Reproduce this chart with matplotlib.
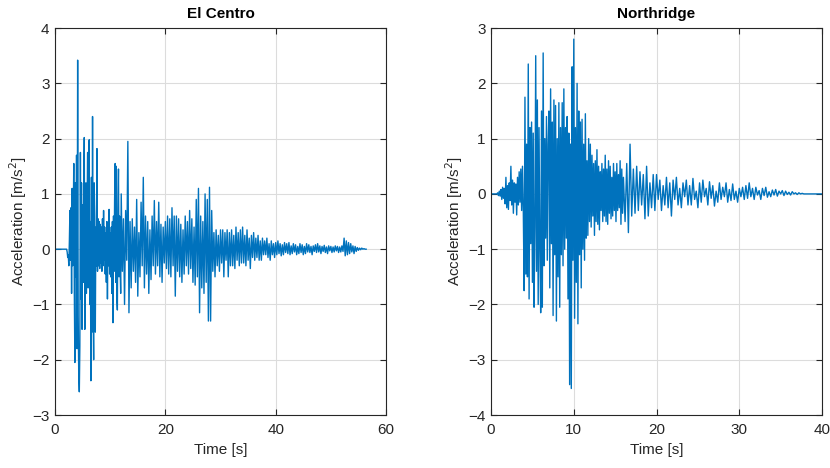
import matplotlib.pyplot as plt
import numpy as np

plt.rcParams["font.family"] = ["Liberation Sans", "DejaVu Sans"]

LINE_COLOR = "#0072BD"
AXES_COLOR = "#262626"
GRID_COLOR = "#dcdcdc"

# El Centro: strong part every 0.1 s (0 .. 11.9 s), then every 0.2 s from 12 s
EC_HEAD_DT = 0.1
EC_HEAD = [
    0, 0, 0, 0, 0, 0, 0, 0, 0, 0,
    0, 0, 0, 0, 0, 0, 0, 0, 0, 0,
    0, 0, -0.05, -0.15, -0.1, -0.3, 0.15, 0.7, -0.2, 0.75,
    -0.8, 1.1, -0.3, 0.5, 1.55, -0.8, -2.05, 1.2, -0.5, 1.7,
    -1.8, 3.42, -1.2, -2.3, -2.58, -1.75, 1.75, -0.9, 1.2, -1.45,
    0.8, -0.6, 1.0, 2.02, -1.45, -0.5, 1.2, -0.8, 0.6, 1.75,
    -0.7, 1.72, 1.98, -1.0, 0.5, -2.38, 1.3, -1.5, 2.4, -1.0,
    -2.0, 1.2, 0.6, -1.5, 0.4, -0.3, 1.82, -0.4, 0.55, -0.3,
    0.5, -0.35, 0.45, -0.25, 0.4, -0.4, 0.55, -0.3, 0.7, -0.2,
    0.4, -0.45, 0.3, -0.6, 0.5, -0.9, 0.35, -0.3, 0.72, -0.45,
    0.3, -0.5, 0.4, -0.8, 0.5, -1.33, 0.6, -0.4, 0.9, 1.55,
    -0.6, 1.5, -0.9, -1.1, 0.7, 1.45, -0.5, 0.6, -0.3, -0.8,
]
EC_TAIL_DT = 0.2
EC_TAIL = [
    1.0, -0.4, 0.55, -1.0, 0.7, -0.2, 1.95, -1.15, 0.5, -0.7,
    0.55, -0.4, 0.4, -0.6, 0.9, -0.85, 0.3, -0.5, 0.85, -0.3,
    1.3, -0.7, 0.6, -0.45, 0.5, -0.8, 0.35, -0.55, 0.6, -0.3,
    0.88, -0.45, 0.5, -0.3, 0.85, -0.5, 0.45, -0.6, 0.4, -0.25,
    0.5, -0.35, 0.6, -0.45, 0.55, -0.5, 0.75, -0.3, 0.6, -0.85,
    0.6, -0.4, 0.55, -0.5, 0.45, -0.6, 0.35, -0.45, 0.6, -0.3,
    0.5, -0.45, 0.7, -0.35, 0.55, -0.6, 0.4, -0.65, 0.9, -0.5,
    1.1, -1.15, 0.6, -0.7, 0.5, -0.8, 1.0, -0.6, 0.9, -1.3,
    1.12, -1.3, 0.7, -0.4, 0.3, -0.5, 0.35, -0.3, 0.25, -0.4,
    0.35, -0.25, 0.35, -0.5, 0.3, -0.2, 0.35, -0.5, 0.3, -0.3,
    0.35, -0.3, 0.25, -0.35, 0.4, -0.2, 0.3, -0.3, 0.35, -0.25,
    0.4, -0.25, 0.25, -0.3, 0.35, -0.2, 0.2, -0.35, 0.25, -0.15,
    0.3, -0.2, 0.2, -0.15, 0.25, -0.2, 0.15, -0.2, 0.2, -0.1,
    0.15, -0.1, 0.2, -0.15, 0.1, -0.2, 0.15, -0.1, 0.1, -0.15,
    0.12, -0.1, 0.15, -0.08, 0.1, -0.12, 0.08, -0.1, 0.12, -0.06,
    0.1, -0.08, 0.12, -0.1, 0.06, -0.08, 0.1, -0.05, 0.08, -0.1,
    0.05, -0.08, 0.1, -0.06, 0.08, -0.1, 0.05, -0.08, 0.1, -0.05,
    0.08, -0.06, 0.05, -0.1, 0.06, -0.04, 0.08, -0.06, 0.1, -0.05,
    0.06, -0.08, 0.05, -0.04, 0.07, -0.06, 0.04, -0.08, 0.06, -0.03,
    0.05, -0.06, 0.04, -0.05, 0.06, -0.03, 0.05, -0.06, 0.04, -0.05,
    0.06, -0.04, 0.2, -0.12, 0.15, -0.1, 0.12, -0.08, 0.1, -0.05,
    0.06, -0.08, 0.05, -0.04, 0.03, -0.02, 0.02, -0.01, 0.02, 0.0,
    0.01, 0.0, 0.0,
]

# Northridge: every 0.1 s (0 .. 15.9 s), then every 0.2 s from 16 s
NR_HEAD_DT = 0.1
NR_HEAD = [
    0, 0, 0, 0, 0, 0, 0, 0, 0.02, -0.03,
    0.05, -0.04, 0.08, -0.1, 0.12, -0.08, 0.1, -0.18, 0.3, -0.25,
    0.15, -0.28, 0.2, -0.12, 0.5, -0.2, 0.25, -0.35, 0.2, -0.15,
    0.18, -0.38, 0.3, -0.2, 0.4, -0.15, 0.45, -0.3, 0.5, -0.3,
    -1.75, 1.75, -1.45, 0.9, -1.5, 2.35, -1.9, 1.2, -0.9, 1.3,
    -1.6, 1.1, -2.05, -0.6, 2.5, -1.4, 1.7, -2.0, 1.2, -1.0,
    -2.15, 1.5, -2.05, 2.55, -1.3, 1.0, -0.8, 1.4, -1.2, 0.9,
    1.5, -1.7, 1.9, -0.9, 1.3, -2.2, 1.7, -1.1, 1.6, -2.3,
    1.0, -1.5, 1.65, -2.05, 1.2, -1.1, 1.65, -1.3, 1.9, -1.0,
    1.2, -0.8, 1.4, -1.9, 1.1, -3.45, 0.9, -3.52, 2.3, -1.2,
    2.8, -2.25, 1.2, -1.6, 2.0, -2.35, 1.5, -1.1, 1.3, -1.7,
    1.35, -1.0, 0.9, -1.2, 1.45, -0.8, 0.6, -0.75, 1.0, -0.5,
    0.9, -0.6, 0.7, -0.4, 0.55, -0.75, 0.6, -0.5, 0.8, -0.55,
    0.5, -0.65, 0.4, -0.3, 0.55, -0.5, 0.45, -0.4, 0.7, -0.5,
    0.45, -0.55, 0.6, -0.35, 0.5, -0.45, 0.3, -0.4, 0.55, -0.3,
    0.4, -0.5, 0.55, -0.3, 0.35, -0.25, 0.6, -0.55, 0.45, -0.35,
]
NR_TAIL_DT = 0.2
NR_TAIL = [
    0.3, -0.5, 0.55, -0.7, 0.9, -0.4, 0.45, -0.35, 0.5, -0.3,
    0.4, -0.2, 0.35, -0.45, 0.5, -0.4, 0.2, -0.25, 0.35, -0.3,
    0.35, -0.1, 0.25, -0.3, 0.15, -0.2, 0.3, -0.25, 0.2, -0.4,
    0.25, -0.1, 0.3, -0.2, 0.1, -0.25, 0.2, -0.05, 0.25, -0.2,
    0.15, -0.2, 0.28, -0.1, 0.05, -0.25, 0.2, -0.15, 0.25, -0.05,
    0.1, -0.2, 0.22, -0.08, 0.15, -0.22, 0.05, -0.15, 0.2, -0.1,
    0.12, -0.05, 0.2, -0.15, 0.08, -0.12, 0.18, -0.1, 0.05, -0.15,
    0.1, -0.05, 0.12, -0.1, 0.15, -0.08, 0.2, -0.05, 0.1, -0.1,
    0.12, -0.02, 0.06, -0.1, 0.1, -0.03, 0.12, -0.06, 0.04, -0.05,
    0.07, -0.02, 0.08, -0.04, 0.05, 0.0, 0.06, -0.03, 0.05, -0.01,
    0.03, -0.02, 0.04, 0.0, 0.02, -0.01, 0.02, 0.0, 0.01, 0.0,
    0, 0, 0, 0, 0, 0, 0, 0, 0, 0, 0,
]

PANELS = [
    ("El Centro", (EC_HEAD_DT, EC_HEAD), (EC_TAIL_DT, EC_TAIL),
     (0, 60), [0, 20, 40, 60], (-3, 4)),
    ("Northridge", (NR_HEAD_DT, NR_HEAD), (NR_TAIL_DT, NR_TAIL),
     (0, 40), [0, 10, 20, 30, 40], (-4, 3)),
]
AXES_RECTS = [
    [0.0663, 0.1132, 0.3988, 0.8268],
    [0.5916, 0.1132, 0.3988, 0.8268],
]


def build_record(head, tail):
    head_dt, head_vals = head
    tail_dt, tail_vals = tail
    t_head = np.arange(len(head_vals)) * head_dt
    t_tail = len(head_vals) * head_dt + np.arange(len(tail_vals)) * tail_dt
    t = np.concatenate([t_head, t_tail])
    acc = np.concatenate([np.asarray(head_vals, float), np.asarray(tail_vals, float)])
    return t, acc


def style_axis(ax):
    for spine in ax.spines.values():
        spine.set_color(AXES_COLOR)
        spine.set_linewidth(0.8)
    ax.tick_params(
        direction="in",
        top=True,
        right=True,
        length=4,
        width=0.8,
        color=AXES_COLOR,
        labelcolor=AXES_COLOR,
        labelsize=11,
    )
    ax.tick_params(axis="x", pad=6)
    ax.tick_params(axis="y", pad=4)
    ax.grid(True, color=GRID_COLOR, linewidth=0.8)
    ax.set_axisbelow(True)


fig = plt.figure(figsize=(8.3, 4.68), dpi=100)

for rect, (title, head, tail, xlim, xticks, ylim) in zip(AXES_RECTS, PANELS):
    ax = fig.add_axes(rect)
    t, acc = build_record(head, tail)
    ax.plot(t, acc, color=LINE_COLOR, linewidth=1.0)
    ax.set_xlim(*xlim)
    ax.set_ylim(*ylim)
    ax.set_xticks(xticks)
    ax.set_yticks(np.arange(ylim[0], ylim[1] + 1))
    ax.set_title(title, fontsize=11, fontweight="bold", color="black", pad=7)
    ax.set_xlabel("Time [s]", fontsize=11, color=AXES_COLOR, labelpad=4)
    ax.set_ylabel("Acceleration [m/s$^2$]", fontsize=11, color=AXES_COLOR, labelpad=2)
    style_axis(ax)

fig.savefig("out.png", dpi=100)
